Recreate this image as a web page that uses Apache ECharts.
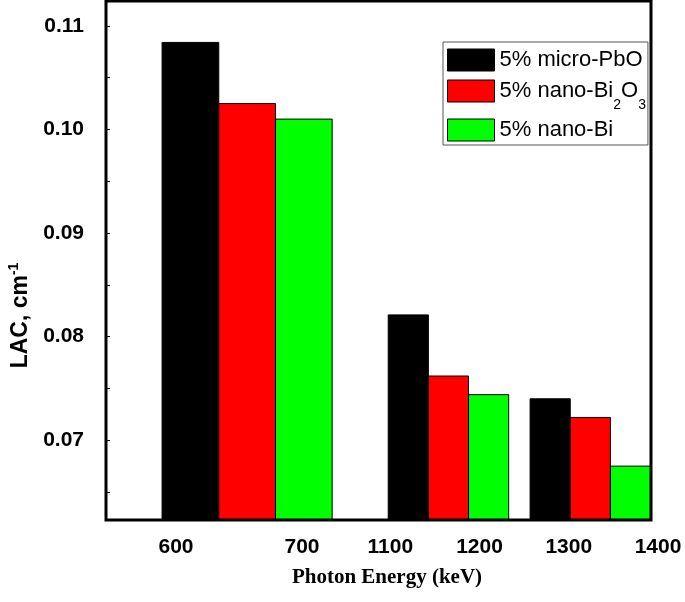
<!DOCTYPE html>
<html>
<head>
<meta charset="utf-8">
<script src="https://cdn.jsdelivr.net/npm/echarts@6/dist/echarts.min.js"></script>
<style>
  html, body { margin: 0; padding: 0; background: #fff; }
  #main { width: 685px; height: 602px; }
</style>
</head>
<body>
<div id="main"></div>
<script>
// photon energies (keV) of the three bar groups
var energies = [662, 1173, 1332];
var seriesNames = ['5% micro-PbO', '5% nano-Bi2O3', '5% nano-Bi'];
var microPbO = [0.1084, 0.0821, 0.0740];
var nanoBi2O3 = [0.1025, 0.0762, 0.0722];
var nanoBi = [0.1010, 0.0744, 0.0675];
var yTicks = [0.07, 0.08, 0.09, 0.10, 0.11];
var yMinorTicks = [0.065, 0.07, 0.075, 0.08, 0.085, 0.09, 0.095, 0.10, 0.105, 0.11];
var xTicksLow = [600, 700];
var xTicksHigh = [1100, 1200, 1300, 1400];

var colors = ['#000000', '#ff0000', '#00ff00'];
var allValues = [microPbO, nanoBi2O3, nanoBi];
var yMin = 0.0623, yMax = 0.1124;
var barKeV = 45;

var chartDom = document.getElementById('main');
var myChart = echarts.init(chartDom, null);
var option;

var boldLabel = {
  color: '#000',
  fontFamily: 'Liberation Sans',
  fontWeight: 'bold',
  fontSize: 21
};

// broken x axis: two segments with their own scale
var segments = [
  { min: 550, max: 750, ticks: xTicksLow },
  { min: 1075, max: 1400, ticks: xTicksHigh }
];

function barRenderer(slot) {
  return function (params, api) {
    var e = api.value(0);
    var topLeft = api.coord([e + (slot - 1.5) * barKeV, api.value(1)]);
    var bottomRight = api.coord([e + (slot - 0.5) * barKeV, yMin]);
    return {
      type: 'rect',
      shape: {
        x: topLeft[0],
        y: topLeft[1],
        width: bottomRight[0] - topLeft[0],
        height: bottomRight[1] - topLeft[1]
      },
      style: api.style()
    };
  };
}

var series = [];
segments.forEach(function (seg, s) {
  seriesNames.forEach(function (name, i) {
    var data = energies.map(function (e, k) { return [e, allValues[i][k]]; })
      .filter(function (d) { return d[0] >= seg.min && d[0] <= seg.max; });
    series.push({
      type: 'custom',
      name: name,
      xAxisIndex: s + 1,
      yAxisIndex: s + 1,
      renderItem: barRenderer(i),
      itemStyle: { color: colors[i], borderColor: '#000', borderWidth: 1 },
      data: data
    });
  });
});

option = {
  animation: false,
  backgroundColor: '#fff',
  grid: [
    { left: 106, right: 34, top: 1, bottom: 82, show: true, z: 10,
      backgroundColor: 'transparent', borderColor: '#000', borderWidth: 3,
      outerBoundsMode: 'none' },
    { left: 106, width: 252, top: 1, bottom: 82, outerBoundsMode: 'none' },
    { left: 361, right: 34, top: 1, bottom: 82, outerBoundsMode: 'none' }
  ],
  legend: {
    orient: 'vertical',
    left: 443,
    top: 42,
    padding: [5, 2, 2, 4],
    itemWidth: 47,
    itemHeight: 22,
    itemGap: 5,
    icon: 'rect',
    borderColor: '#555',
    borderWidth: 1,
    backgroundColor: '#fff',
    itemStyle: { borderColor: '#000', borderWidth: 1 },
    data: seriesNames,
    formatter: function (name) {
      if (name === '5% nano-Bi2O3') return '5% nano-Bi{sub|2}O{sub|3}';
      return name;
    },
    textStyle: {
      color: '#000',
      fontFamily: 'Liberation Sans',
      fontSize: 22,
      lineHeight: 26,
      rich: {
        sub: { fontFamily: 'Liberation Sans', fontSize: 14, color: '#000', padding: [28, 0, 0, 0] }
      }
    }
  },
  xAxis: [
    {
      type: 'value', gridIndex: 0, min: 0, max: 1,
      axisLine: { show: false }, axisTick: { show: false },
      axisLabel: { show: false }, splitLine: { show: false },
      name: 'Photon Energy (keV)',
      nameLocation: 'middle',
      nameGap: 47,
      nameTextStyle: {
        color: '#000', fontFamily: 'Liberation Serif', fontWeight: 'bold',
        fontSize: 21, padding: [0, 0, 0, 17]
      }
    }
  ].concat(segments.map(function (seg, s) {
    return {
      type: 'value', gridIndex: s + 1, min: seg.min, max: seg.max,
      axisLine: { show: false }, axisTick: { show: false },
      splitLine: { show: false },
      axisLabel: Object.assign({
        customValues: seg.ticks,
        margin: 17,
        padding: [0, 0, 0, 14],
        formatter: function (v) { return String(v); }
      }, boldLabel)
    };
  })),
  yAxis: [
    {
      type: 'value', gridIndex: 0, min: yMin, max: yMax,
      axisLine: { show: false },
      splitLine: { show: false },
      axisTick: { inside: true, length: 4, customValues: yMinorTicks,
        lineStyle: { color: '#000', width: 1 } },
      axisLabel: Object.assign({
        customValues: yTicks,
        margin: 22,
        formatter: function (v) { return v.toFixed(2); }
      }, boldLabel),
      name: 'LAC, cm{sup|-1}',
      nameLocation: 'middle',
      nameGap: 68,
      nameTextStyle: {
        color: '#000', fontFamily: 'Liberation Sans', fontWeight: 'bold',
        fontSize: 23, padding: [0, 110, 0, 0],
        rich: {
          sup: { fontFamily: 'Liberation Sans', fontWeight: 'bold', fontSize: 14,
            color: '#000', padding: [0, 0, 13, 0] }
        }
      }
    }
  ].concat(segments.map(function (seg, s) {
    return { type: 'value', gridIndex: s + 1, min: yMin, max: yMax, show: false };
  })),
  series: series
};

myChart.setOption(option);
</script>
</body>
</html>
